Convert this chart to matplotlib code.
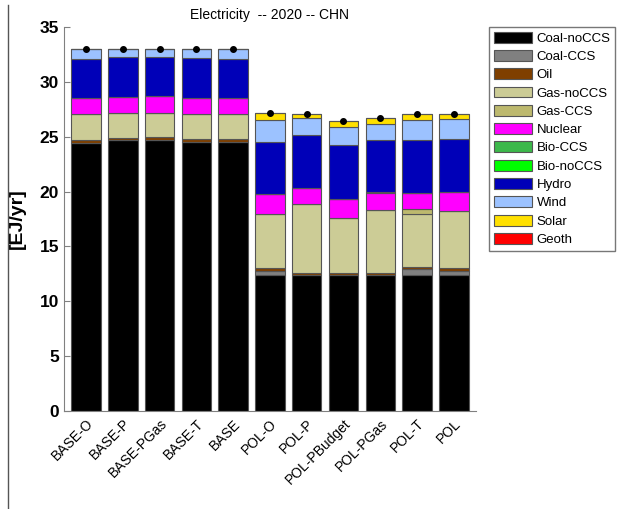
import matplotlib
matplotlib.use("Agg")
import matplotlib.pyplot as plt
from matplotlib.lines import Line2D
from matplotlib.patches import Patch
import numpy as np

plt.rcParams['font.family'] = ['Liberation Sans', 'DejaVu Sans']

scenarios = ['BASE-O', 'BASE-P', 'BASE-PGas', 'BASE-T', 'BASE',
             'POL-O', 'POL-P', 'POL-PBudget', 'POL-PGas', 'POL-T', 'POL']

techs = ['Coal-noCCS', 'Coal-CCS', 'Oil', 'Gas-noCCS', 'Gas-CCS', 'Nuclear',
         'Bio-CCS', 'Bio-noCCS', 'Hydro', 'Wind', 'Solar', 'Geoth']
colors = ['#000000', '#808080', '#7f3f00', '#cccc96', '#bdb96e', '#ff00ff',
          '#3cb84a', '#00ff00', '#0000b8', '#9cc2ff', '#ffe000', '#ff0000']

# electricity generation by technology [EJ/yr], one list per scenario
coal_nos = [24.45, 24.7, 24.7, 24.5, 24.5, 12.4, 12.4, 12.4, 12.4, 12.4, 12.4]
coal_ccs = [0, 0, 0, 0, 0, 0.35, 0, 0, 0, 0.5, 0.35]
oil      = [0.25, 0.2, 0.25, 0.25, 0.25, 0.25, 0.2, 0.2, 0.2, 0.25, 0.25]
gas_nos  = [2.35, 2.3, 2.2, 2.3, 2.3, 4.95, 6.3, 4.95, 5.7, 4.85, 5.25]
gas_ccs  = [0, 0, 0, 0, 0, 0, 0, 0, 0, 0.4, 0]
nuclear  = [1.45, 1.45, 1.55, 1.5, 1.45, 1.8, 1.45, 1.75, 1.6, 1.45, 1.7]
bio_ccs  = [0, 0, 0, 0, 0, 0, 0, 0.05, 0.03, 0, 0]
bio_nos  = [0, 0, 0, 0, 0, 0, 0, 0, 0, 0, 0]
hydro    = [3.6, 3.65, 3.6, 3.65, 3.6, 4.75, 4.85, 4.85, 4.75, 4.85, 4.8]
wind     = [0.9, 0.7, 0.7, 0.8, 0.9, 2.0, 1.5, 1.65, 1.52, 1.8, 1.85]
solar    = [0, 0, 0, 0, 0, 0.7, 0.4, 0.55, 0.5, 0.6, 0.5]
geoth    = [0, 0, 0, 0, 0, 0, 0, 0, 0, 0, 0]

series = [coal_nos, coal_ccs, oil, gas_nos, gas_ccs, nuclear,
          bio_ccs, bio_nos, hydro, wind, solar, geoth]

fig = plt.figure(figsize=(6.24, 5.09), dpi=100)
ax = fig.add_axes([0.1026, 0.1925, 0.66, 0.7545])

x = np.arange(len(scenarios))
bottom = np.zeros(len(scenarios))
for vals, c in zip(series, colors):
    vals = np.array(vals, dtype=float)
    ax.bar(x, vals, 0.8, bottom=bottom, color=c, edgecolor='#555555',
           linewidth=0.8)
    bottom += vals

# total generation marker
ax.plot(x, bottom, 'o', color='black', markersize=4, zorder=5)

ax.set_xlim(-0.6, 10.6)
ax.set_ylim(0, 35)
ax.set_yticks(range(0, 36, 5))
ax.set_xticks(x)
ax.set_xticklabels(scenarios, rotation=45, ha='right', fontsize=10,
                   rotation_mode='anchor')
for lab in ax.get_yticklabels():
    lab.set_fontsize(12.5)
    lab.set_fontweight('bold')
ax.tick_params(axis='y', direction='in', length=4, color='#808080')
ax.tick_params(axis='x', length=0, pad=4)
for side in ['top', 'right']:
    ax.spines[side].set_visible(False)
for side in ['left', 'bottom']:
    ax.spines[side].set_color('#808080')

ax.set_ylabel('[EJ/yr]', fontsize=14, fontweight='bold', labelpad=10)
ax.set_title('Electricity  -- 2020 -- CHN', fontsize=10, pad=6)

handles = [Patch(facecolor=c, edgecolor='#555555', linewidth=0.8, label=t)
           for t, c in zip(techs, colors)]
fig.legend(handles=handles, loc='upper left',
           bbox_to_anchor=(489 / 624, 1 - 27 / 509), fontsize=9.5,
           frameon=True, fancybox=False, edgecolor='#555555',
           handlelength=2.9, handleheight=0.9, labelspacing=0.4,
           borderpad=0.35, handletextpad=0.35, borderaxespad=0)

fig.add_artist(Line2D([8 / 624, 8 / 624], [0, 1 - 5 / 509],
                      color='#555555', linewidth=1))

fig.savefig('out.png', dpi=100)
